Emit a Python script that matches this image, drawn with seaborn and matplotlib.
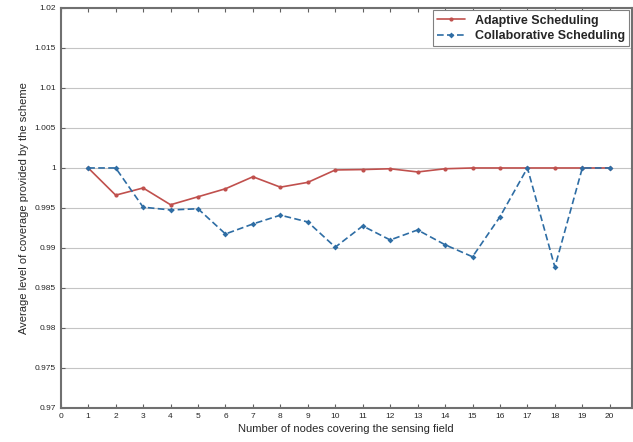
import matplotlib
matplotlib.use("Agg")
import matplotlib.pyplot as plt
import seaborn as sns
import pandas as pd

nodes = list(range(1, 21))
adaptive = [1.0, 0.9966, 0.9975, 0.9954, 0.9964, 0.9974, 0.9989, 0.9976, 0.9982, 0.99975,
            0.9998, 0.9999, 0.9995, 0.9999, 1.0, 1.0, 1.0, 1.0, 1.0, 1.0]
collaborative = [1.0, 1.0, 0.9951, 0.99475, 0.9949, 0.99175, 0.993, 0.9941, 0.99325, 0.9901,
                 0.99275, 0.991, 0.99225, 0.9904, 0.9889, 0.9939, 1.0, 0.9876, 1.0, 1.0]
series_names = ["Adaptive Scheduling", "Collaborative Scheduling"]
x_ticks = list(range(0, 21))
y_ticks = [0.97, 0.975, 0.98, 0.985, 0.99, 0.995, 1.0, 1.005, 1.01, 1.015, 1.02]
y_tick_labels = ["0.97", "0.975", "0.98", "0.985", "0.99", "0.995", "1", "1.005", "1.01", "1.015", "1.02"]

df = pd.DataFrame({
    "nodes": nodes * 2,
    "coverage": adaptive + collaborative,
    "scheme": [series_names[0]] * len(nodes) + [series_names[1]] * len(nodes),
})

sns.set_style("white")
plt.rcParams["font.family"] = ["Liberation Sans", "DejaVu Sans"]

fig = plt.figure(figsize=(6.33, 4.42), dpi=100)
ax = fig.add_axes([0.096, 0.077, 0.902, 0.905])

palette = {series_names[0]: "#c0504d", series_names[1]: "#2e6da4"}
sns.lineplot(data=df, x="nodes", y="coverage", hue="scheme", style="scheme",
             palette=palette, dashes={series_names[0]: "", series_names[1]: (4, 2)},
             markers={series_names[0]: "o", series_names[1]: "D"},
             markersize=3, linewidth=1.2, markeredgewidth=0, ax=ax)

ax.set_xlim(0, 20.8)
ax.set_ylim(0.97, 1.02)
ax.set_xticks(x_ticks)
ax.set_xticklabels([str(t) for t in x_ticks], fontsize=6)
ax.set_yticks(y_ticks)
ax.set_yticklabels(y_tick_labels, fontsize=6)
ax.yaxis.grid(True, color="#c4c4c4", linewidth=0.8)
ax.xaxis.grid(False)
ax.tick_params(axis="both", direction="in", length=3, color="#606060", top=True, bottom=True, left=True)
for s in ax.spines.values():
    s.set_color("#707070")
    s.set_linewidth(1.5)
ax.set_xlabel("Number of nodes covering the sensing field", fontsize=8, labelpad=3)
ax.set_ylabel("Average level of coverage provided by the scheme", fontsize=8, labelpad=4)

leg = ax.legend(loc="upper right", frameon=True, fancybox=False,
                edgecolor="#808080", framealpha=1, borderpad=0.35, handlelength=2.2,
                labelspacing=0.25, borderaxespad=0.2,
                prop={"weight": "bold", "size": 9})
leg.get_frame().set_linewidth(0.8)

fig.savefig("out.png", dpi=100)
